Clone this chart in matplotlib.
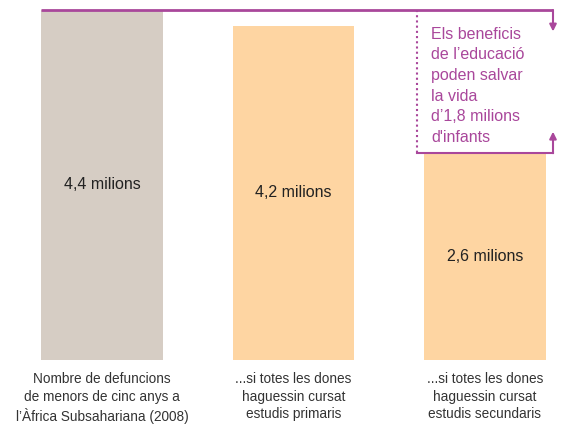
import matplotlib
matplotlib.use("Agg")
import matplotlib.pyplot as plt

plt.rcParams['font.family'] = ['Liberation Sans', 'DejaVu Sans']

categories = ["Nombre de defuncions\nde menors de cinc anys a\nl’Àfrica Subsahariana (2008)",
              "...si totes les dones\nhaguessin cursat\nestudis primaris",
              "...si totes les dones\nhaguessin cursat\nestudis secundaris"]
values = [4.4, 4.2, 2.6]
value_labels = ["4,4 milions", "4,2 milions", "2,6 milions"]
colors = ["#d6cdc4", "#fed5a2", "#fed5a2"]
note = "Els beneficis\nde l’educació\npoden salvar\nla vida\nd’1,8 milions\nd'infants"

purple = "#a9479b"
fig = plt.figure(figsize=(5.88, 4.24), dpi=100)
ax = fig.add_axes([0, 64/424, 1, 360/424])
xs = list(range(len(values)))
ax.bar(xs, values, width=0.637, color=colors)
ax.set_xlim(-102/191.5, (588-102)/191.5)
ax.set_ylim(0, 360/79.55)
ax.axis('off')

for x, v, lab in zip(xs, values, value_labels):
    ax.text(x, v/2, lab, ha='center', va='center', fontsize=11.5, color='#222222')
for x, c in zip(xs, categories):
    ax.text(x, -0.15, c, ha='center', va='top', fontsize=9.8, color='#333333', linespacing=1.33)

xr = (553-102)/191.5
xl = (417-102)/191.5
x0 = -0.3185
ax.plot([x0, xr], [values[0], values[0]], color=purple, lw=2, solid_capstyle='butt')
ax.annotate('', xy=(xr, 4.13), xytext=(xr, values[0]),
            arrowprops=dict(arrowstyle='-|>', color=purple, lw=1.5, mutation_scale=10, shrinkA=0, shrinkB=0))
ax.plot([xl, xr], [values[2], values[2]], color=purple, lw=1.5)
ax.annotate('', xy=(xr, 2.87), xytext=(xr, values[2]),
            arrowprops=dict(arrowstyle='-|>', color=purple, lw=1.5, mutation_scale=10, shrinkA=0, shrinkB=0))
ax.plot([xl, xl], [values[0], values[2]], color=purple, lw=1.5, ls=(0, (1, 1.5)))
ax.text(1.72, 4.19, note, ha='left', va='top', fontsize=11.5, color=purple, linespacing=1.47)

fig.savefig("out.png", dpi=100)
